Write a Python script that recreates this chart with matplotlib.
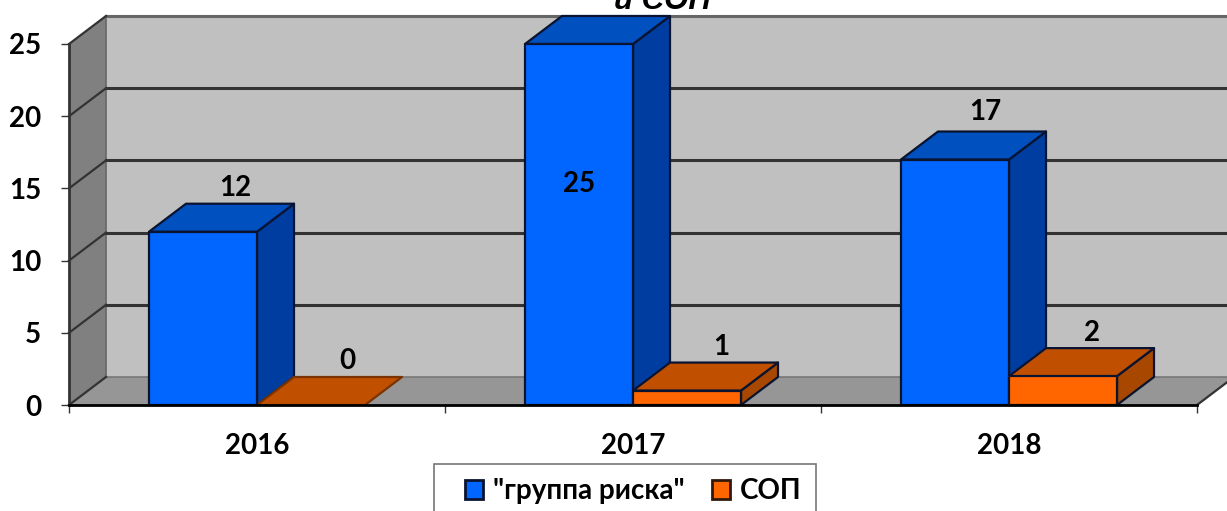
import matplotlib
matplotlib.use("Agg")
import matplotlib.pyplot as plt
from matplotlib.patches import Polygon, Patch, Rectangle

years = ["2016", "2017", "2018"]
risk_group = [12, 25, 17]
sop = [0, 1, 2]
series_names = ['"группа риска"', "СОП"]
y_ticks = [0, 5, 10, 15, 20, 25]
title_tail = "и СОП"

W, H = 1227, 511
L, R, T, B = 69, 1197, 44, 405
FONT = ["Lato", "Open Sans", "DejaVu Sans"]
TXT = 20

fig = plt.figure(figsize=(W / 100, H / 100), dpi=100, facecolor="white")
ax = fig.add_axes([L / W, 1 - B / H, (R - L) / W, (B - T) / H])
ax.set_xlim(0, 3)
ax.set_ylim(0, 25)
ax.patch.set_visible(False)

DX = 37 / (R - L) * 3       # depth offset in x data units
DY = 28 / (B - T) * 25      # depth offset in y data units
BW = 108 / (R - L) * 3      # bar width in x data units


def poly(points, fc, ec="none", lw=0.0, z=1):
    ax.add_patch(Polygon(points, closed=True, facecolor=fc, edgecolor=ec,
                         linewidth=lw, zorder=z, clip_on=False, joinstyle="round"))


top = y_ticks[-1]
# walls and floor
poly([(DX, DY), (3 + DX, DY), (3 + DX, top + DY), (DX, top + DY)], "#c0c0c0", z=1)
poly([(0, 0), (DX, DY), (DX, top + DY), (0, top)], "#808080", z=1)
poly([(0, 0), (3, 0), (3 + DX, DY), (DX, DY)], "#969696", z=1)
ax.plot([DX, DX], [DY, top + DY], color="#666666", lw=1.2, zorder=2, clip_on=False)
ax.plot([DX, 3 + DX], [DY, DY], color="#777777", lw=1.2, zorder=2, clip_on=False)
ax.plot([3, 3 + DX], [0, DY], color="#333333", lw=1.6, zorder=2, clip_on=False)

# gridlines on the back and side walls
for v in y_ticks:
    shade = "#666666" if v == top else "#333333"
    if v > 0:
        ax.plot([DX, 3 + DX], [v + DY, v + DY], color=shade, lw=2.2, zorder=2, clip_on=False)
    ax.plot([0, DX], [v, v + DY], color="#333333", lw=1.6, zorder=2, clip_on=False)


def box(x0, value, front, roof, side):
    x1 = x0 + BW
    edge = "#0a1430"
    if value > 0:
        poly([(x1, 0), (x1 + DX, DY), (x1 + DX, value + DY), (x1, value)], side, edge, 1.6, 3)
        poly([(x0, 0), (x1, 0), (x1, value), (x0, value)], front, edge, 1.6, 4)
    poly([(x0, value), (x1, value), (x1 + DX, value + DY), (x0 + DX, value + DY)], roof, edge if value else "#7a3300", 1.6, 3)


for i, year in enumerate(years):
    centre = i + 0.5
    box(centre - BW, risk_group[i], "#0066ff", "#0050c0", "#003da0")
    box(centre, sop[i], "#ff6600", "#c05000", "#a84800")

# value labels: (x shift from bar centre, y above value) in data units
risk_off = [(0.085, 3.05), (0, -9.7), (0.08, 3.3)]
sop_off = [(0.096, 3.05), (0.09, 3.05), (0.077, 3.0)]
for i in range(len(years)):
    xb = i + 0.5 - BW / 2
    xs = i + 0.5 + BW / 2
    ax.text(xb + risk_off[i][0], risk_group[i] + risk_off[i][1], str(risk_group[i]),
            ha="center", va="center", family=FONT, fontweight="bold", fontsize=TXT,
            color="black", zorder=6, clip_on=False)
    ax.text(xs + sop_off[i][0], sop[i] + sop_off[i][1], str(sop[i]),
            ha="center", va="center", family=FONT, fontweight="bold", fontsize=TXT,
            color="black", zorder=6, clip_on=False)

# axes
for s in ("top", "right"):
    ax.spines[s].set_visible(False)
ax.spines["left"].set(color="#333333", linewidth=2, zorder=5)
ax.spines["bottom"].set(color="black", linewidth=2, zorder=5)
ax.set_yticks(y_ticks)
ax.set_yticklabels([str(v) for v in y_ticks], family=FONT, fontweight="bold", fontsize=TXT)
ax.tick_params(axis="y", length=6, width=1, color="#333333", pad=14)
ax.set_xticks(range(len(years) + 1))
ax.set_xticklabels([])
ax.set_xticks([i + 0.5 for i in range(len(years))], minor=True)
ax.set_xticklabels(years, minor=True, family=FONT, fontweight="bold", fontsize=TXT)
ax.tick_params(axis="x", which="major", length=6, width=1, color="#333333")
ax.tick_params(axis="x", which="minor", length=0, pad=20)

# clipped title remnant
fig.text(662 / W, 1 - 9 / H, title_tail, ha="center", va="baseline",
         family="Liberation Sans", fontweight="bold", fontstyle="italic", fontsize=22.4)

# legend frame runs off the bottom of the picture
fig.add_artist(Rectangle((434 / W, -0.02), (816 - 434) / W, (1 - 464 / H) + 0.02,
                         transform=fig.transFigure, facecolor="white",
                         edgecolor="#777777", linewidth=1.2))
handles = [Patch(facecolor="#0066ff", edgecolor="#0a1430", linewidth=2),
           Patch(facecolor="#ff6600", edgecolor="#30180a", linewidth=2)]
leg = fig.legend(handles, series_names, ncol=2, loc="center left",
                 bbox_to_anchor=(465 / W, 1 - 491 / H), frameon=False, borderaxespad=0,
                 borderpad=0, handlelength=0.65, handleheight=0.65, handletextpad=0.35,
                 columnspacing=1.0, prop={"family": FONT, "weight": "bold", "size": 20})

fig.savefig("out.png", dpi=100, facecolor="white")
